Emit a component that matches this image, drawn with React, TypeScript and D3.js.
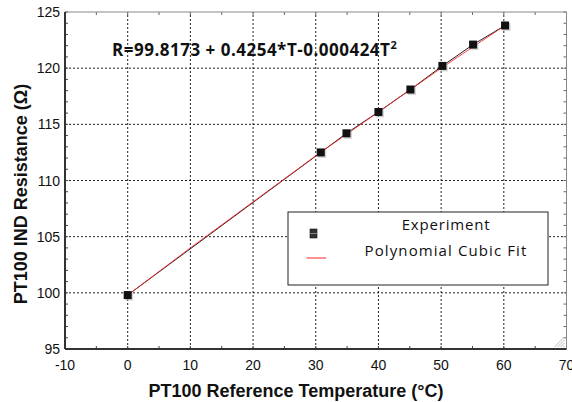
import * as d3 from 'd3';

const tempC = [0, 30.8, 34.9, 40.0, 45.1, 50.2, 55.1, 60.2];
const resistance = [99.8, 112.5, 114.2, 116.1, 118.1, 120.2, 122.1, 123.8];
const fitT = [0, 10, 20, 30, 40, 50, 60.2];
const fitR = [99.8, 104.0, 108.1, 112.2, 116.1, 120.0, 123.8];
const xTicks = [-10, 0, 10, 20, 30, 40, 50, 60, 70];
const yTicks = [95, 100, 105, 110, 115, 120, 125];
const legendLabels = ['Experiment', 'Polynomial Cubic Fit'];

const W = 572;
const H = 402;
const m = {left: 65, right: 5.5, top: 12, bottom: 53};

export default function App() {
  const x = d3.scaleLinear().domain([-10, 70]).range([m.left, W - m.right]);
  const y = d3.scaleLinear().domain([95, 125]).range([H - m.bottom, m.top]);
  const [x0, x1] = x.range();
  const [y0, y1] = y.range();

  const xMinor = d3.range(-10, 70.01, 5);
  const yMinor = d3.range(95, 125.01, 1);

  const pts = tempC.map((t, i) => [t, resistance[i]] as [number, number]);
  const fit = fitT.map((t, i) => [t, fitR[i]] as [number, number]);
  const line = d3
    .line<[number, number]>()
    .x((d) => x(d[0]))
    .y((d) => y(d[1]));

  const lg = {x: 288, y: 212, w: 260, h: 73};

  return (
    <svg
      width={W}
      height={H}
      style={{position: 'absolute', left: 0, top: 0, background: '#fff'}}
      fontFamily="'Liberation Sans', Arial, sans-serif"
    >
      <rect width={W} height={H} fill="#fff" />
      {/* grid */}
      {xTicks
        .filter((t) => t > -10 && t < 70)
        .map((t) => (
          <line key={'gx' + t} x1={x(t)} x2={x(t)} y1={y0} y2={y1} stroke="#222" strokeWidth={1} strokeDasharray="2,2" />
        ))}
      {yTicks
        .filter((t) => t > 95 && t < 125)
        .map((t) => (
          <line key={'gy' + t} x1={x0} x2={x1} y1={y(t)} y2={y(t)} stroke="#222" strokeWidth={1} strokeDasharray="2,2" />
        ))}
      {/* ticks */}
      {xMinor.map((t) => (
        <g key={'tx' + t}>
          <line x1={x(t)} x2={x(t)} y1={y0} y2={y0 - 3} stroke="#444" />
          <line x1={x(t)} x2={x(t)} y1={y1} y2={y1 + 3} stroke="#666" />
        </g>
      ))}
      {yMinor.map((t) => (
        <g key={'ty' + t}>
          <line x1={x0} x2={x0 + 3} y1={y(t)} y2={y(t)} stroke="#444" />
          <line x1={x1} x2={x1 - 3} y1={y(t)} y2={y(t)} stroke="#666" />
        </g>
      ))}
      {/* frame */}
      <line x1={x0} x2={x1} y1={y1} y2={y1} stroke="#888" strokeWidth={1} />
      <line x1={x1} x2={x1} y1={y1} y2={y0} stroke="#888" strokeWidth={1} />
      <line x1={x0} x2={x0} y1={y1} y2={y0} stroke="#333" strokeWidth={2} />
      <line x1={x0} x2={x1} y1={y0} y2={y0} stroke="#333" strokeWidth={2} />
      {/* resize grip */}
      {[0, 1, 2, 3].map((i) => (
        <line key={'g' + i} x1={x1 - 3 - i * 3} y1={y0 - 2} x2={x1 - 2} y2={y0 - 3 - i * 3} stroke="#aaa" strokeWidth={0.8} />
      ))}
      {/* tick labels */}
      {xTicks.map((t) => (
        <text key={'lx' + t} x={x(t)} y={370} textAnchor="middle" fontSize={14} fill="#111">
          {t}
        </text>
      ))}
      {yTicks.map((t) => (
        <text key={'ly' + t} x={x0 - 5} y={y(t) + 5} textAnchor="end" fontSize={14} fill="#111">
          {t}
        </text>
      ))}
      {/* axis titles */}
      <text x={296} y={397} textAnchor="middle" fontSize={18} fontWeight="bold" fill="#111">
        PT100 Reference Temperature (°C)
      </text>
      <text
        transform={`translate(27,${194}) rotate(-90)`}
        textAnchor="middle"
        fontSize={18}
        fontWeight="bold"
        fill="#111"
      >
        PT100 IND Resistance (Ω)
      </text>
      {/* series */}
      <path d={line(pts) ?? ''} fill="none" stroke="#222" strokeWidth={1} />
      <path d={line(fit) ?? ''} fill="none" stroke="#f22" strokeWidth={1} strokeOpacity={0.85} />
      {pts.map((d, i) => (
        <g key={'p' + i}>
          <rect x={x(d[0]) - 2.5} y={y(d[1]) - 2.5} width={8} height={8} fill="#bbb" opacity={0.6} />
          <rect x={x(d[0]) - 4} y={y(d[1]) - 4} width={8} height={8} fill="#111" />
        </g>
      ))}
      {/* formula */}
      <text
        x={112}
        y={56}
        fontFamily="'Open Sans', sans-serif"
        fontSize={17}
        fontWeight="bold"
        fill="#111"
        letterSpacing={0.5}
      >
        R=99.8173 + 0.4254*T-0.000424T
        <tspan dy={-7} fontSize={11} letterSpacing={0}>
          2
        </tspan>
      </text>
      {/* legend */}
      <rect x={lg.x} y={lg.y} width={lg.w} height={lg.h} fill="#fff" stroke="#222" strokeWidth={1} />
      <rect x={310} y={229} width={7} height={9} fill="#333" stroke="#111" strokeWidth={0.6} />
      <line x1={310} x2={317} y1={233.5} y2={233.5} stroke="#999" strokeWidth={0.8} />
      <line x1={306.5} x2={326} y1={258} y2={258} stroke="#f22" strokeWidth={1} />
      <text x={446} y={230} textAnchor="middle" fontFamily="'Open Sans', sans-serif" fontSize={15} fill="#111" letterSpacing={0.8}>
        {legendLabels[0]}
      </text>
      <text x={446} y={256} textAnchor="middle" fontFamily="'Open Sans', sans-serif" fontSize={15} fill="#111" letterSpacing={1.1}>
        {legendLabels[1]}
      </text>
    </svg>
  );
}
